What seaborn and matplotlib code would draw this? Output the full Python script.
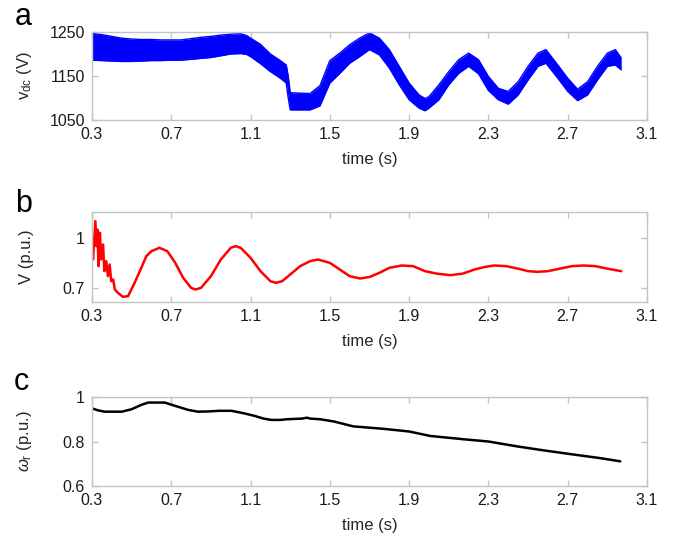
import matplotlib
matplotlib.use("Agg")
import matplotlib.pyplot as plt
import seaborn as sns
import pandas as pd

sns.set_theme(style="white")
plt.rcParams['font.family'] = ['Liberation Sans', 'DejaVu Sans']
plt.rcParams['mathtext.fontset'] = 'custom'
plt.rcParams['mathtext.rm'] = 'Liberation Sans'
plt.rcParams['mathtext.it'] = 'Liberation Sans:italic'

# ---- Panel a: DC-link voltage band (upper/lower envelope of noisy trace)
t_a = [0.30, 0.35, 0.40, 0.45, 0.50, 0.55, 0.60, 0.65, 0.70, 0.75, 0.80, 0.85,
       0.90, 0.95, 1.00, 1.05, 1.08, 1.10, 1.15, 1.20, 1.25, 1.28, 1.29, 1.30,
       1.35, 1.40, 1.45, 1.50, 1.55, 1.60, 1.65, 1.70, 1.75, 1.80, 1.85, 1.90,
       1.95, 1.98, 2.00, 2.05, 2.10, 2.15, 2.20, 2.25, 2.30, 2.35, 2.40, 2.45,
       2.50, 2.55, 2.59, 2.65, 2.70, 2.75, 2.80, 2.85, 2.90, 2.94, 2.97]
vdc_upper = [1247, 1244, 1240, 1236, 1234, 1233, 1233, 1232, 1232, 1232, 1235, 1238,
             1240, 1243, 1245, 1246, 1242, 1236, 1222, 1200, 1185, 1175, 1150, 1112,
             1111, 1110, 1128, 1185, 1202, 1221, 1236, 1248, 1236, 1210, 1172, 1134,
             1107, 1099, 1103, 1130, 1160, 1187, 1202, 1187, 1149, 1122, 1115, 1137,
             1172, 1202, 1210, 1175, 1145, 1120, 1137, 1172, 1202, 1210, 1191]
vdc_lower = [1186, 1185, 1184, 1183, 1183, 1184, 1185, 1185, 1186, 1186, 1188, 1190,
             1192, 1196, 1200, 1201, 1199, 1194, 1178, 1160, 1145, 1134, 1100, 1073,
             1073, 1073, 1082, 1134, 1156, 1179, 1194, 1210, 1198, 1168, 1130, 1096,
             1077, 1071, 1077, 1096, 1130, 1156, 1172, 1155, 1117, 1096, 1086, 1107,
             1141, 1172, 1179, 1145, 1115, 1094, 1107, 1141, 1172, 1175, 1164]

# ---- Panel b: terminal voltage (p.u.)
t_b = [0.300, 0.305, 0.317, 0.322, 0.327, 0.333, 0.340, 0.346, 0.356, 0.362,
       0.372, 0.380, 0.389, 0.397, 0.407, 0.415, 0.431, 0.456, 0.482, 0.515,
       0.545, 0.574, 0.600, 0.640, 0.680, 0.720, 0.760, 0.800, 0.822, 0.850,
       0.900, 0.950, 1.000, 1.025, 1.050, 1.100, 1.150, 1.200, 1.227, 1.260,
       1.300, 1.350, 1.400, 1.440, 1.500, 1.550, 1.600, 1.652, 1.700, 1.750,
       1.800, 1.863, 1.920, 1.980, 2.040, 2.108, 2.170, 2.230, 2.280, 2.330,
       2.390, 2.450, 2.500, 2.547, 2.600, 2.660, 2.720, 2.780, 2.840, 2.900, 2.970]
V_b = [1.00, 0.87, 1.10, 0.95, 1.05, 0.83, 1.03, 0.87, 0.96, 0.80,
       0.86, 0.77, 0.84, 0.74, 0.75, 0.69, 0.67, 0.646, 0.65, 0.73,
       0.81, 0.89, 0.92, 0.94, 0.92, 0.85, 0.76, 0.70, 0.69, 0.70,
       0.77, 0.87, 0.94, 0.95, 0.94, 0.88, 0.80, 0.74, 0.73, 0.74,
       0.78, 0.83, 0.86, 0.87, 0.85, 0.81, 0.77, 0.756, 0.765, 0.79,
       0.82, 0.834, 0.83, 0.80, 0.785, 0.776, 0.785, 0.81, 0.825, 0.834,
       0.83, 0.815, 0.80, 0.796, 0.80, 0.815, 0.83, 0.834, 0.83, 0.815, 0.80]

# ---- Panel c: rotor speed (p.u.)
t_c = [0.300, 0.330, 0.364, 0.450, 0.500, 0.550, 0.583, 0.667, 0.720, 0.785,
       0.835, 0.886, 0.940, 1.003, 1.060, 1.121, 1.165, 1.205, 1.250, 1.283,
       1.360, 1.384, 1.400, 1.451, 1.520, 1.618, 1.770, 1.900, 2.006, 2.175,
       2.300, 2.445, 2.580, 2.700, 2.850, 2.965]
w_c = [0.949, 0.940, 0.934, 0.934, 0.945, 0.965, 0.975, 0.975, 0.960, 0.942,
       0.934, 0.935, 0.938, 0.938, 0.928, 0.915, 0.903, 0.897, 0.897, 0.900,
       0.903, 0.907, 0.903, 0.900, 0.890, 0.868, 0.857, 0.845, 0.825, 0.810,
       0.800, 0.778, 0.760, 0.745, 0.727, 0.711]

xticks = [0.3, 0.7, 1.1, 1.5, 1.9, 2.3, 2.7, 3.1]
xticklabels = ["0.3", "0.7", "1.1", "1.5", "1.9", "2.3", "2.7", "3.1"]

W, H = 673, 545
fig = plt.figure(figsize=(W / 100, H / 100), dpi=100)

def box(top, bottom, left=92, right=647):
    return [left / W, 1 - bottom / H, (right - left) / W, (bottom - top) / H]

ax_a = fig.add_axes(box(32, 120))
ax_b = fig.add_axes(box(212, 302))
ax_c = fig.add_axes(box(397, 486))

df_a = pd.DataFrame({"t": t_a, "up": vdc_upper, "lo": vdc_lower})
ax_a.fill_between(df_a["t"], df_a["lo"], df_a["up"], color="#0000ff", lw=0)
sns.lineplot(data=df_a, x="t", y="up", ax=ax_a, color="#0000ff", lw=1.0)
sns.lineplot(data=df_a, x="t", y="lo", ax=ax_a, color="#0000ff", lw=1.0)

sns.lineplot(x=t_b, y=V_b, ax=ax_b, color="#ff0000", lw=1.8)
sns.lineplot(x=t_c, y=w_c, ax=ax_c, color="black", lw=1.8)

ax_a.set_ylim(1050, 1250)
ax_a.set_yticks([1050, 1150, 1250])
ax_a.set_yticklabels(["1050", "1150", "1250"])
ax_b.set_ylim(0.615, 1.155)
ax_b.set_yticks([0.7, 1.0])
ax_b.set_yticklabels(["0.7", "1"])
ax_c.set_ylim(0.6, 1.0)
ax_c.set_yticks([0.6, 0.8, 1.0])
ax_c.set_yticklabels(["0.6", "0.8", "1"])

ylabels = [r"v$_{\mathrm{dc}}$ (V)", "V (p.u.)", r"$\omega_{\mathrm{r}}$ (p.u.)"]
for ax, yl in zip([ax_a, ax_b, ax_c], ylabels):
    ax.set_xlim(0.3, 3.1)
    ax.set_xticks(xticks)
    ax.set_xticklabels(xticklabels)
    ax.set_xlabel("time (s)", fontsize=12, labelpad=7)
    ax.set_ylabel(yl, fontsize=12)
    ax.yaxis.set_label_coords(-0.105, 0.5)
    for s in ax.spines.values():
        s.set_visible(True)
        s.set_color("#c4c4c4")
        s.set_linewidth(1.0)
    ax.tick_params(direction="in", length=4, width=1.0, color="#c4c4c4",
                   labelsize=11.5, labelcolor="#1a1a1a", pad=5,
                   top=True, right=True, bottom=True, left=True)
    ax.set_facecolor("white")

# panel letters (pixel positions: x, baseline y)
for letter, (px, py) in zip(["a", "b", "c"], [(15, 25), (15, 212), (14, 390)]):
    fig.text(px / W, 1 - py / H, letter, fontsize=22, ha="left",
             va="baseline", color="black")

fig.savefig("out.png", dpi=100, facecolor="white")
